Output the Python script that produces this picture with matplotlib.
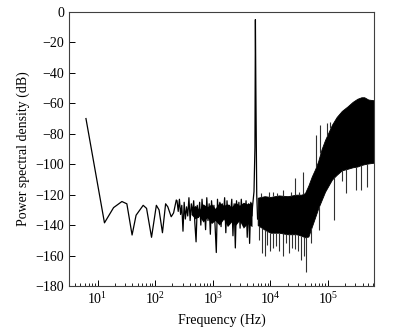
import matplotlib.pyplot as plt
import numpy as np

plt.rcParams['font.family'] = ['Liberation Serif', 'DejaVu Serif']
plt.rcParams['mathtext.fontset'] = 'stix'

# low frequency part of the spectrum (Hz, dB)
low_freq = [6.3, 13.2, 19, 26.5, 32.3, 39.8, 46.7, 62, 71, 86.6, 105, 117, 134, 152, 166, 190, 209, 233]
low_db = [-70, -138.5, -128.5, -124.5, -126, -146.5, -133.5, -127, -129, -148, -127, -130, -145,
          -126, -128, -134.5, -132, -123.5]

# noise floor between 240 Hz and 4.8 kHz
mid_db = [-124, -131, -123, -133, -127, -144, -125, -136, -128, -134,
          -122, -137, -126, -132, -124, -139, -151, -127, -135, -125,
          -140, -123, -134, -128, -143, -122, -137, -126, -146, -124,
          -136, -127, -141, -158, -123, -136, -125, -141, -126, -134,
          -122, -145, -124, -138, -127, -133, -123, -147, -126, -155,
          -124, -136, -125, -142, -123, -135, -127, -139, -124, -148,
          -126, -152, -125, -134]
mid_freq = np.geomspace(240, 4800, len(mid_db))

# dense core of the noise floor (Hz, dB)
core_freq = [420, 500, 580, 680, 800, 950, 1100, 1300, 1550, 1800, 2100, 2500, 2900, 3400, 4000, 4800]
core_top = [-129, -127, -130, -126, -128, -126, -129, -125, -127, -126, -128, -125, -127, -125, -126, -125]
core_bot = [-133, -136, -134, -138, -135, -139, -137, -140, -136, -141, -138, -140, -137, -142, -139, -141]

# carrier line
peak_freq = [4900, 5200, 5400, 5500, 5600, 5800, 6000]
peak_db = [-128, -118, -89, -5, -49, -120, -136]

# high frequency band envelope (log10 Hz, dB)
band_logf = [3.78, 3.90, 4.00, 4.15, 4.30, 4.45, 4.54, 4.60, 4.66, 4.72, 4.78, 4.83, 4.89,
             4.95, 5.07, 5.15, 5.24, 5.34, 5.43, 5.51, 5.58, 5.63, 5.70, 5.80]
band_top = [-122, -121, -121.5, -120.5, -121, -120, -120, -119, -114, -108, -103, -98, -90,
            -84, -74, -69, -65, -62, -59, -57, -56, -56, -57.5, -58]
band_bot = [-140, -143, -145, -145, -146, -146, -147, -148, -147.5, -141, -134.5, -129, -123.5,
            -118, -110, -107, -104, -103, -102, -101.5, -100.5, -100, -99.5, -99]

# isolated spikes (log10 Hz, dB)
down_logf = [3.80, 3.85, 3.91, 3.95, 4.00, 4.05, 4.10, 4.15, 4.22, 4.27, 4.33, 4.38, 4.43,
             4.48, 4.54, 4.58, 4.62, 4.71, 4.85, 5.11, 5.24, 5.31, 5.48, 5.57, 5.68]
down_db = [-150, -158, -160, -153, -157, -155, -154, -157, -160, -152, -158, -155, -156,
           -157, -163, -160, -170.5, -152, -143, -136.5, -111, -119, -117, -117, -115]
up_logf = [3.83, 3.97, 4.05, 4.12, 4.22, 4.35, 4.43, 4.50, 4.57, 4.79, 4.87, 4.98, 5.04]
up_db = [-119, -118.5, -118, -119, -117, -118.5, -109, -118, -105, -81, -74, -73, -72]

fig = plt.figure(figsize=(3.93, 3.29), dpi=100)
ax = fig.add_axes([0.1756, 0.1307, 0.7761, 0.8328])

f_line = np.concatenate([low_freq, mid_freq, peak_freq])
db_line = np.concatenate([low_db, mid_db, peak_db])
ax.fill_between(core_freq, core_bot, core_top, color='black', lw=0)
ax.plot(f_line, db_line, color='black', lw=0.9)

bf = 10 ** np.array(band_logf)
ax.fill_between(bf, band_bot, band_top, color='black', lw=0.6, edgecolor='black')

dn = 10 ** np.array(down_logf)
ax.vlines(dn, down_db, np.interp(down_logf, band_logf, band_bot), color='#303030', lw=0.8)
up = 10 ** np.array(up_logf)
ax.vlines(up, np.interp(up_logf, band_logf, band_top), up_db, color='#303030', lw=0.8)

ax.set_xscale('log')
ax.set_xlim(3.2, 6.3e5)
ax.set_ylim(-180, 0)
ax.set_yticks(np.arange(-180, 1, 20))

ax.tick_params(axis='both', which='both', direction='in', top=False, right=False, labelsize=10)
ax.tick_params(which='major', length=4, width=0.7)
ax.tick_params(which='minor', length=2, width=0.6)
for s in ax.spines.values():
    s.set_linewidth(0.8)
    s.set_color('#404040')

ax.set_xlabel('Frequency (Hz)', fontsize=10, labelpad=5)
ax.set_ylabel('Power spectral density (dB)', fontsize=10, labelpad=4)

fig.savefig('out.png', dpi=100)
